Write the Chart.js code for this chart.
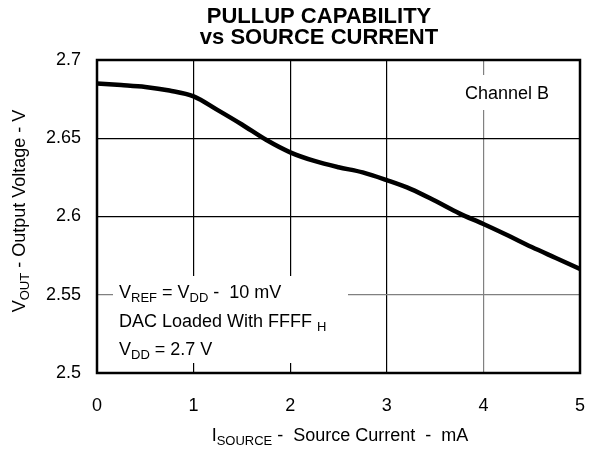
<!DOCTYPE html>
<html lang="en">
<head>
    <meta charset="UTF-8">
    <title>Pullup Capability vs Source Current</title>
    <script src="https://cdn.jsdelivr.net/npm/chart.js"></script>
    <style>
        html, body { margin: 0; padding: 0; background: #fff; }
        #wrap { width: 594px; height: 449px; }
    </style>
</head>
<body>
    <div id="wrap"><canvas id="chart" width="594" height="449"></canvas></div>

    <script>
        // Data
        const sourceCurrent = [0, 0.25, 0.5, 0.75, 1, 1.25, 1.5, 1.75, 2, 2.25, 2.5, 2.75, 3,
                               3.25, 3.5, 3.75, 4, 4.25, 4.5, 4.75, 5];
        const outputVoltage = [2.685, 2.684, 2.6828, 2.6805, 2.6768, 2.668, 2.6588, 2.649, 2.641, 2.6355, 2.6315, 2.6282, 2.6232,
                               2.6175, 2.61, 2.602, 2.5952, 2.588, 2.5805, 2.5735, 2.5665];
        const xTickLabels = ['0', '1', '2', '3', '4', '5'];
        const yTickLabels = ['2.5', '2.55', '2.6', '2.65', '2.7'];

        const FONT = '"Liberation Sans", Arial, sans-serif';

        // draw a line of text where some parts are subscripts
        function drawRich(ctx, parts, x, y, align) {
            const big = '18px ' + FONT, small = '13px ' + FONT;
            let total = 0;
            parts.forEach(p => {
                ctx.font = p.sub ? small : big;
                total += ctx.measureText(p.t).width;
            });
            let cx = align === 'center' ? x - total / 2 : x;
            ctx.textAlign = 'left';
            ctx.textBaseline = 'middle';
            parts.forEach(p => {
                ctx.font = p.sub ? small : big;
                ctx.fillText(p.t, cx, p.sub ? y + 5 : y);
                cx += ctx.measureText(p.t).width;
            });
        }

        const decorations = {
            id: 'decorations',
            beforeDatasetsDraw(chart) {
                const ctx = chart.ctx;
                ctx.save();
                ctx.fillStyle = '#fff';
                // boxes behind the notes
                ctx.fillRect(113, 276, 235, 87);
                ctx.fillRect(455, 75, 105, 35);
                ctx.restore();
            },
            afterDraw(chart) {
                const ctx = chart.ctx;
                const a = chart.chartArea;
                ctx.save();
                ctx.strokeStyle = '#000';
                ctx.lineWidth = 2.5;
                ctx.strokeRect(a.left, a.top, a.right - a.left, a.bottom - a.top);

                ctx.fillStyle = '#000';
                ctx.textAlign = 'center';
                ctx.textBaseline = 'middle';
                ctx.font = 'bold 22px ' + FONT;
                ctx.fillText('PULLUP CAPABILITY', 319, 17);
                ctx.fillText('vs SOURCE CURRENT', 319, 38);

                ctx.font = '18px ' + FONT;
                ctx.fillText('Channel B', 507, 94);

                drawRich(ctx, [{t: 'V'}, {t: 'REF', sub: true}, {t: ' = V'}, {t: 'DD', sub: true}, {t: ' -  10 mV'}], 119, 293);
                drawRich(ctx, [{t: 'DAC Loaded With FFFF '}, {t: 'H', sub: true}], 119, 322);
                drawRich(ctx, [{t: 'V'}, {t: 'DD', sub: true}, {t: ' = 2.7 V'}], 119, 350);

                drawRich(ctx, [{t: 'I'}, {t: 'SOURCE', sub: true}, {t: ' -  Source Current  -  mA'}], 340, 436, 'center');

                ctx.translate(20, 211);
                ctx.rotate(-Math.PI / 2);
                drawRich(ctx, [{t: 'V'}, {t: 'OUT', sub: true}, {t: ' - Output Voltage - V'}], 0, 0, 'center');
                ctx.restore();
            }
        };

        const ctx = document.getElementById('chart').getContext('2d');
        new Chart(ctx, {
            type: 'line',
            data: {
                datasets: [{
                    data: sourceCurrent.map((x, i) => ({ x: x, y: outputVoltage[i] })),
                    borderColor: '#000',
                    borderWidth: 4.5,
                    pointRadius: 0,
                    cubicInterpolationMode: 'monotone',
                    fill: false
                }]
            },
            options: {
                responsive: false,
                animation: false,
                layout: { padding: { top: 60, right: 14, left: 0, bottom: 0 } },
                plugins: { legend: { display: false }, tooltip: { enabled: false } },
                scales: {
                    x: {
                        type: 'linear',
                        min: 0, max: 5,
                        afterFit: s => { s.height = 76; s.paddingLeft = 0; s.paddingRight = 0; },
                        ticks: {
                            stepSize: 1,
                            padding: 22,
                            color: '#000',
                            font: { family: FONT, size: 18 },
                            callback: (v) => xTickLabels[Math.round(v)]
                        },
                        grid: {
                            drawTicks: false,
                            lineWidth: 1.2,
                            color: c => c.tick && c.tick.value === 4 ? '#808080' : '#000'
                        },
                        border: { display: false }
                    },
                    y: {
                        min: 2.5, max: 2.7,
                        afterFit: s => { s.width = 97; s.paddingTop = 0; s.paddingBottom = 0; },
                        ticks: {
                            stepSize: 0.05,
                            padding: 16,
                            color: '#000',
                            font: { family: FONT, size: 18 },
                            callback: (v) => yTickLabels[Math.round((v - 2.5) / 0.05)]
                        },
                        grid: {
                            drawTicks: false,
                            lineWidth: 1.2,
                            color: c => c.tick && Math.abs(c.tick.value - 2.55) < 1e-6 ? '#808080' : '#000'
                        },
                        border: { display: false }
                    }
                }
            },
            plugins: [decorations]
        });
    </script>
</body>
</html>
